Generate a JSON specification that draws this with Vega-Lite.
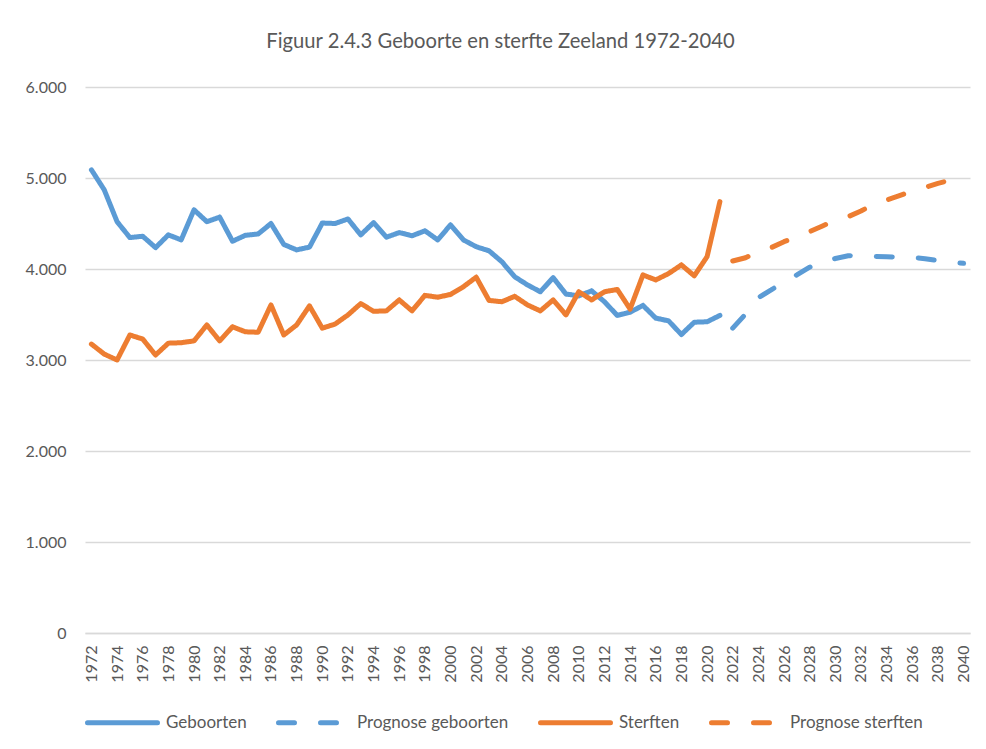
{
  "$schema": "https://vega.github.io/schema/vega-lite/v6.json",
  "width": 885,
  "height": 546,
  "autosize": {"type": "none"},
  "padding": {"left": 85, "top": 87, "right": 16, "bottom": 116},
  "background": "white",
  "title": {
    "text": "Figuur 2.4.3 Geboorte en sterfte Zeeland 1972-2040",
    "anchor": "middle",
    "dx": -27,
    "font": "Lato",
    "fontSize": 20.2,
    "fontWeight": "normal",
    "color": "#595959",
    "baseline": "alphabetic",
    "offset": 11
  },
  "config": {
    "font": "Lato",
    "view": {"stroke": null}
  },
  "data": {
    "values": [
      {"year": 1972, "series": "Geboorten", "value": 5090},
      {"year": 1973, "series": "Geboorten", "value": 4870},
      {"year": 1974, "series": "Geboorten", "value": 4520},
      {"year": 1975, "series": "Geboorten", "value": 4345},
      {"year": 1976, "series": "Geboorten", "value": 4360},
      {"year": 1977, "series": "Geboorten", "value": 4235},
      {"year": 1978, "series": "Geboorten", "value": 4375},
      {"year": 1979, "series": "Geboorten", "value": 4320},
      {"year": 1980, "series": "Geboorten", "value": 4650},
      {"year": 1981, "series": "Geboorten", "value": 4520},
      {"year": 1982, "series": "Geboorten", "value": 4570},
      {"year": 1983, "series": "Geboorten", "value": 4305},
      {"year": 1984, "series": "Geboorten", "value": 4370},
      {"year": 1985, "series": "Geboorten", "value": 4385},
      {"year": 1986, "series": "Geboorten", "value": 4500},
      {"year": 1987, "series": "Geboorten", "value": 4270},
      {"year": 1988, "series": "Geboorten", "value": 4210},
      {"year": 1989, "series": "Geboorten", "value": 4240},
      {"year": 1990, "series": "Geboorten", "value": 4505},
      {"year": 1991, "series": "Geboorten", "value": 4500},
      {"year": 1992, "series": "Geboorten", "value": 4550},
      {"year": 1993, "series": "Geboorten", "value": 4375},
      {"year": 1994, "series": "Geboorten", "value": 4510},
      {"year": 1995, "series": "Geboorten", "value": 4350},
      {"year": 1996, "series": "Geboorten", "value": 4400},
      {"year": 1997, "series": "Geboorten", "value": 4365},
      {"year": 1998, "series": "Geboorten", "value": 4420},
      {"year": 1999, "series": "Geboorten", "value": 4320},
      {"year": 2000, "series": "Geboorten", "value": 4485},
      {"year": 2001, "series": "Geboorten", "value": 4320},
      {"year": 2002, "series": "Geboorten", "value": 4245},
      {"year": 2003, "series": "Geboorten", "value": 4200},
      {"year": 2004, "series": "Geboorten", "value": 4080},
      {"year": 2005, "series": "Geboorten", "value": 3915},
      {"year": 2006, "series": "Geboorten", "value": 3825},
      {"year": 2007, "series": "Geboorten", "value": 3750},
      {"year": 2008, "series": "Geboorten", "value": 3905},
      {"year": 2009, "series": "Geboorten", "value": 3725},
      {"year": 2010, "series": "Geboorten", "value": 3705},
      {"year": 2011, "series": "Geboorten", "value": 3760},
      {"year": 2012, "series": "Geboorten", "value": 3640},
      {"year": 2013, "series": "Geboorten", "value": 3490},
      {"year": 2014, "series": "Geboorten", "value": 3525},
      {"year": 2015, "series": "Geboorten", "value": 3600},
      {"year": 2016, "series": "Geboorten", "value": 3460},
      {"year": 2017, "series": "Geboorten", "value": 3430},
      {"year": 2018, "series": "Geboorten", "value": 3280},
      {"year": 2019, "series": "Geboorten", "value": 3415},
      {"year": 2020, "series": "Geboorten", "value": 3420},
      {"year": 2021, "series": "Geboorten", "value": 3490},
      {"year": 2022, "series": "Prognose geboorten", "value": 3350},
      {"year": 2023, "series": "Prognose geboorten", "value": 3505},
      {"year": 2024, "series": "Prognose geboorten", "value": 3685},
      {"year": 2025, "series": "Prognose geboorten", "value": 3770},
      {"year": 2026, "series": "Prognose geboorten", "value": 3860},
      {"year": 2027, "series": "Prognose geboorten", "value": 3935},
      {"year": 2028, "series": "Prognose geboorten", "value": 4020},
      {"year": 2029, "series": "Prognose geboorten", "value": 4080},
      {"year": 2030, "series": "Prognose geboorten", "value": 4115},
      {"year": 2031, "series": "Prognose geboorten", "value": 4145},
      {"year": 2032, "series": "Prognose geboorten", "value": 4143},
      {"year": 2033, "series": "Prognose geboorten", "value": 4138},
      {"year": 2034, "series": "Prognose geboorten", "value": 4135},
      {"year": 2035, "series": "Prognose geboorten", "value": 4130},
      {"year": 2036, "series": "Prognose geboorten", "value": 4127},
      {"year": 2037, "series": "Prognose geboorten", "value": 4113},
      {"year": 2038, "series": "Prognose geboorten", "value": 4092},
      {"year": 2039, "series": "Prognose geboorten", "value": 4078},
      {"year": 2040, "series": "Prognose geboorten", "value": 4062},
      {"year": 1972, "series": "Sterften", "value": 3175},
      {"year": 1973, "series": "Sterften", "value": 3065},
      {"year": 1974, "series": "Sterften", "value": 3000},
      {"year": 1975, "series": "Sterften", "value": 3275},
      {"year": 1976, "series": "Sterften", "value": 3230},
      {"year": 1977, "series": "Sterften", "value": 3055},
      {"year": 1978, "series": "Sterften", "value": 3185},
      {"year": 1979, "series": "Sterften", "value": 3190},
      {"year": 1980, "series": "Sterften", "value": 3210},
      {"year": 1981, "series": "Sterften", "value": 3385},
      {"year": 1982, "series": "Sterften", "value": 3210},
      {"year": 1983, "series": "Sterften", "value": 3365},
      {"year": 1984, "series": "Sterften", "value": 3310},
      {"year": 1985, "series": "Sterften", "value": 3305},
      {"year": 1986, "series": "Sterften", "value": 3605},
      {"year": 1987, "series": "Sterften", "value": 3275},
      {"year": 1988, "series": "Sterften", "value": 3385},
      {"year": 1989, "series": "Sterften", "value": 3595},
      {"year": 1990, "series": "Sterften", "value": 3350},
      {"year": 1991, "series": "Sterften", "value": 3395},
      {"year": 1992, "series": "Sterften", "value": 3495},
      {"year": 1993, "series": "Sterften", "value": 3620},
      {"year": 1994, "series": "Sterften", "value": 3535},
      {"year": 1995, "series": "Sterften", "value": 3540},
      {"year": 1996, "series": "Sterften", "value": 3660},
      {"year": 1997, "series": "Sterften", "value": 3540},
      {"year": 1998, "series": "Sterften", "value": 3710},
      {"year": 1999, "series": "Sterften", "value": 3690},
      {"year": 2000, "series": "Sterften", "value": 3720},
      {"year": 2001, "series": "Sterften", "value": 3805},
      {"year": 2002, "series": "Sterften", "value": 3910},
      {"year": 2003, "series": "Sterften", "value": 3655},
      {"year": 2004, "series": "Sterften", "value": 3640},
      {"year": 2005, "series": "Sterften", "value": 3700},
      {"year": 2006, "series": "Sterften", "value": 3605},
      {"year": 2007, "series": "Sterften", "value": 3540},
      {"year": 2008, "series": "Sterften", "value": 3660},
      {"year": 2009, "series": "Sterften", "value": 3495},
      {"year": 2010, "series": "Sterften", "value": 3750},
      {"year": 2011, "series": "Sterften", "value": 3660},
      {"year": 2012, "series": "Sterften", "value": 3750},
      {"year": 2013, "series": "Sterften", "value": 3775},
      {"year": 2014, "series": "Sterften", "value": 3560},
      {"year": 2015, "series": "Sterften", "value": 3935},
      {"year": 2016, "series": "Sterften", "value": 3880},
      {"year": 2017, "series": "Sterften", "value": 3950},
      {"year": 2018, "series": "Sterften", "value": 4045},
      {"year": 2019, "series": "Sterften", "value": 3925},
      {"year": 2020, "series": "Sterften", "value": 4135},
      {"year": 2021, "series": "Sterften", "value": 4740},
      {"year": 2022, "series": "Prognose sterften", "value": 4088},
      {"year": 2023, "series": "Prognose sterften", "value": 4124},
      {"year": 2024, "series": "Prognose sterften", "value": 4190},
      {"year": 2025, "series": "Prognose sterften", "value": 4235},
      {"year": 2026, "series": "Prognose sterften", "value": 4300},
      {"year": 2027, "series": "Prognose sterften", "value": 4355},
      {"year": 2028, "series": "Prognose sterften", "value": 4410},
      {"year": 2029, "series": "Prognose sterften", "value": 4473},
      {"year": 2030, "series": "Prognose sterften", "value": 4538},
      {"year": 2031, "series": "Prognose sterften", "value": 4575},
      {"year": 2032, "series": "Prognose sterften", "value": 4637},
      {"year": 2033, "series": "Prognose sterften", "value": 4711},
      {"year": 2034, "series": "Prognose sterften", "value": 4758},
      {"year": 2035, "series": "Prognose sterften", "value": 4806},
      {"year": 2036, "series": "Prognose sterften", "value": 4857},
      {"year": 2037, "series": "Prognose sterften", "value": 4897},
      {"year": 2038, "series": "Prognose sterften", "value": 4941},
      {"year": 2039, "series": "Prognose sterften", "value": 4978},
      {"year": 2040, "series": "Prognose sterften", "value": 5010}
    ]
  },
  "mark": {"type": "line", "strokeWidth": 5, "strokeCap": "round", "strokeJoin": "round"},
  "encoding": {
    "x": {
      "field": "year",
      "type": "ordinal",
      "scale": {"type": "point", "padding": 0.5},
      "axis": {
        "title": null,
        "labelAngle": -90,
        "labelExpr": "datum.value % 2 == 0 ? datum.label : ''",
        "labelFontSize": 16,
        "labelColor": "#595959",
        "labelPadding": 12,
        "ticks": false,
        "domain": true,
        "domainColor": "#d9d9d9",
        "domainWidth": 1.3,
        "grid": false
      }
    },
    "y": {
      "field": "value",
      "type": "quantitative",
      "scale": {"domain": [0, 6000], "nice": false},
      "axis": {
        "title": null,
        "values": [0, 1000, 2000, 3000, 4000, 5000, 6000],
        "labelExpr": "replace(format(datum.value, ','), ',', '.')",
        "labelFontSize": 16,
        "labelColor": "#595959",
        "labelPadding": 19,
        "ticks": false,
        "domain": false,
        "grid": true,
        "gridColor": "#d9d9d9",
        "gridWidth": 1.3
      }
    },
    "color": {
      "field": "series",
      "type": "nominal",
      "scale": {
        "domain": ["Geboorten", "Prognose geboorten", "Sterften", "Prognose sterften"],
        "range": ["#5B9BD5", "#5B9BD5", "#ED7D31", "#ED7D31"]
      },
      "legend": {
        "title": null,
        "orient": "bottom",
        "direction": "horizontal",
        "symbolType": "stroke",
        "symbolSize": 4900,
        "symbolStrokeWidth": 5,
        "labelFontSize": 17,
        "labelColor": "#595959",
        "labelOffset": 6,
        "columnPadding": 21,
        "offset": 2,
        "encode": {"symbols": {"update": {"strokeCap": {"value": "round"}}}}
      }
    },
    "strokeDash": {
      "field": "series",
      "type": "nominal",
      "scale": {
        "domain": ["Geboorten", "Prognose geboorten", "Sterften", "Prognose sterften"],
        "range": [[1, 0], [16, 26], [1, 0], [16, 26]]
      },
      "legend": {
        "title": null,
        "orient": "bottom",
        "direction": "horizontal",
        "symbolType": "stroke",
        "symbolSize": 4900,
        "symbolStrokeWidth": 5,
        "labelFontSize": 17,
        "labelColor": "#595959",
        "labelOffset": 6,
        "columnPadding": 21,
        "offset": 2,
        "encode": {"symbols": {"update": {"strokeCap": {"value": "round"}}}}
      }
    }
  }
}
